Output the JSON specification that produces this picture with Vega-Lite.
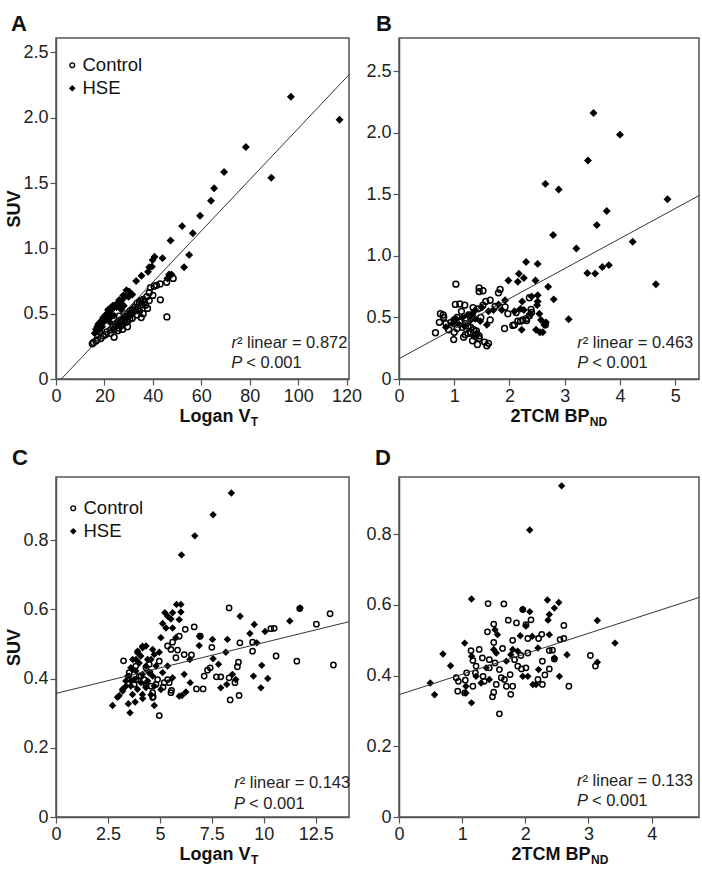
{
"$schema": "https://vega.github.io/schema/vega-lite/v6.json",
"background": "white",
"padding": {"left": 5, "top": 12, "right": 0, "bottom": 0},
"datasets": {
"ab": [
{"g":"HSE","suv":2.16,"vt":97.0,"bp":3.52},{"g":"HSE","suv":1.985,"vt":117.1,"bp":4.0},{"g":"HSE","suv":1.775,"vt":78.4,"bp":3.42},{"g":"HSE","suv":1.585,"vt":69.4,"bp":2.65},{"g":"HSE","suv":1.54,"vt":88.9,"bp":2.89},{"g":"HSE","suv":1.46,"vt":65.3,"bp":4.86},{"g":"HSE","suv":1.365,"vt":64.0,"bp":3.76},{"g":"HSE","suv":1.25,"vt":59.5,"bp":3.58},{"g":"HSE","suv":1.17,"vt":52.1,"bp":2.79},{"g":"HSE","suv":1.115,"vt":56.5,"bp":4.23},{"g":"HSE","suv":1.06,"vt":47.3,"bp":3.21},{"g":"HSE","suv":0.95,"vt":55.0,"bp":2.30},{"g":"HSE","suv":0.935,"vt":40.7,"bp":2.51},{"g":"HSE","suv":0.925,"vt":44.0,"bp":3.80},{"g":"HSE","suv":0.91,"vt":39.9,"bp":3.68},{"g":"HSE","suv":0.86,"vt":39.6,"bp":3.41},{"g":"HSE","suv":0.856,"vt":52.9,"bp":3.55},{"g":"HSE","suv":0.855,"vt":38.5,"bp":2.17},{"g":"HSE","suv":0.82,"vt":38.0,"bp":2.26},{"g":"HSE","suv":0.80,"vt":46.7,"bp":1.98},{"g":"HSE","suv":0.80,"vt":47.7,"bp":2.47},{"g":"HSE","suv":0.79,"vt":35.3,"bp":2.15},{"g":"HSE","suv":0.77,"vt":46.0,"bp":4.65},{"g":"HSE","suv":0.75,"vt":33.1,"bp":2.70},
{"g":"HSE","suv":0.68,"vt":29.1,"bp":2.51},{"g":"HSE","suv":0.67,"vt":30.2,"bp":2.40},{"g":"HSE","suv":0.647,"vt":31.5,"bp":2.80},{"g":"HSE","suv":0.64,"vt":27.8,"bp":1.92},{"g":"HSE","suv":0.63,"vt":28.5,"bp":2.51},{"g":"HSE","suv":0.63,"vt":30.0,"bp":2.23},{"g":"HSE","suv":0.605,"vt":26.1,"bp":1.80},{"g":"HSE","suv":0.60,"vt":27.0,"bp":2.50},{"g":"HSE","suv":0.58,"vt":25.5,"bp":1.50},{"g":"HSE","suv":0.57,"vt":24.8,"bp":2.20},{"g":"HSE","suv":0.56,"vt":24.0,"bp":1.86},{"g":"HSE","suv":0.56,"vt":26.5,"bp":1.71},{"g":"HSE","suv":0.56,"vt":23.5,"bp":2.26},{"g":"HSE","suv":0.56,"vt":28.0,"bp":1.38},{"g":"HSE","suv":0.55,"vt":22.8,"bp":1.62},{"g":"HSE","suv":0.55,"vt":25.0,"bp":2.09},{"g":"HSE","suv":0.53,"vt":23.0,"bp":1.33},{"g":"HSE","suv":0.53,"vt":21.5,"bp":2.38},{"g":"HSE","suv":0.53,"vt":27.0,"bp":2.54},{"g":"HSE","suv":0.52,"vt":22.0,"bp":1.24},{"g":"HSE","suv":0.50,"vt":21.0,"bp":1.15},{"g":"HSE","suv":0.49,"vt":20.5,"bp":1.03},{"g":"HSE","suv":0.49,"vt":22.5,"bp":1.38},{"g":"HSE","suv":0.485,"vt":24.0,"bp":3.07},{"g":"HSE","suv":0.48,"vt":21.0,"bp":1.30},{"g":"HSE","suv":0.48,"vt":23.0,"bp":2.57},{"g":"HSE","suv":0.47,"vt":19.5,"bp":1.47},{"g":"HSE","suv":0.46,"vt":20.5,"bp":2.66},{"g":"HSE","suv":0.45,"vt":19.0,"bp":0.97},{"g":"HSE","suv":0.44,"vt":18.5,"bp":1.09},{"g":"HSE","suv":0.44,"vt":20.0,"bp":2.63},{"g":"HSE","suv":0.44,"vt":22.0,"bp":1.59},{"g":"HSE","suv":0.43,"vt":18.0,"bp":1.18},{"g":"HSE","suv":0.42,"vt":17.5,"bp":0.85},{"g":"HSE","suv":0.40,"vt":17.0,"bp":2.48},{"g":"HSE","suv":0.40,"vt":19.0,"bp":2.22},{"g":"HSE","suv":0.38,"vt":16.5,"bp":2.60},{"g":"HSE","suv":0.38,"vt":18.0,"bp":2.55},{"g":"HSE","suv":0.37,"vt":17.5,"bp":1.42},{"g":"HSE","suv":0.35,"vt":16.0,"bp":1.35},
{"g":"Control","suv":0.77,"vt":48.4,"bp":1.03},{"g":"Control","suv":0.74,"vt":45.7,"bp":1.45},{"g":"Control","suv":0.728,"vt":43.0,"bp":1.83},{"g":"Control","suv":0.717,"vt":41.5,"bp":1.52},{"g":"Control","suv":0.71,"vt":40.5,"bp":1.45},{"g":"Control","suv":0.70,"vt":39.0,"bp":1.80},{"g":"Control","suv":0.66,"vt":38.5,"bp":2.36},{"g":"Control","suv":0.64,"vt":40.0,"bp":1.65},{"g":"Control","suv":0.63,"vt":37.5,"bp":1.57},{"g":"Control","suv":0.61,"vt":36.0,"bp":1.10},{"g":"Control","suv":0.606,"vt":43.1,"bp":1.02},{"g":"Control","suv":0.60,"vt":38.5,"bp":1.19},{"g":"Control","suv":0.60,"vt":35.0,"bp":1.52},{"g":"Control","suv":0.59,"vt":36.5,"bp":1.74},{"g":"Control","suv":0.585,"vt":34.5,"bp":1.92},{"g":"Control","suv":0.58,"vt":33.5,"bp":1.34},{"g":"Control","suv":0.57,"vt":35.5,"bp":1.43},{"g":"Control","suv":0.565,"vt":37.0,"bp":2.39},{"g":"Control","suv":0.55,"vt":32.5,"bp":1.13},{"g":"Control","suv":0.54,"vt":34.0,"bp":2.12},{"g":"Control","suv":0.54,"vt":37.8,"bp":2.40},{"g":"Control","suv":0.53,"vt":31.5,"bp":0.75},{"g":"Control","suv":0.53,"vt":33.0,"bp":1.97},{"g":"Control","suv":0.52,"vt":30.5,"bp":1.27},{"g":"Control","suv":0.514,"vt":32.0,"bp":2.36},{"g":"Control","suv":0.50,"vt":31.0,"bp":0.81},{"g":"Control","suv":0.50,"vt":29.5,"bp":1.05},{"g":"Control","suv":0.49,"vt":33.5,"bp":2.30},{"g":"Control","suv":0.48,"vt":30.0,"bp":1.65},{"g":"Control","suv":0.48,"vt":28.5,"bp":2.24},{"g":"Control","suv":0.475,"vt":45.8,"bp":2.31},{"g":"Control","suv":0.47,"vt":29.0,"bp":2.15},{"g":"Control","suv":0.47,"vt":35.2,"bp":2.20},{"g":"Control","suv":0.465,"vt":31.5,"bp":1.10},{"g":"Control","suv":0.46,"vt":27.5,"bp":0.73},{"g":"Control","suv":0.46,"vt":30.5,"bp":0.94},{"g":"Control","suv":0.45,"vt":28.0,"bp":0.85},{"g":"Control","suv":0.45,"vt":26.5,"bp":1.20},{"g":"Control","suv":0.44,"vt":29.5,"bp":2.09},{"g":"Control","suv":0.44,"vt":27.0,"bp":2.65},{"g":"Control","suv":0.435,"vt":25.5,"bp":2.06},{"g":"Control","suv":0.43,"vt":28.5,"bp":1.25},{"g":"Control","suv":0.42,"vt":26.0,"bp":1.30},{"g":"Control","suv":0.42,"vt":24.5,"bp":1.15},{"g":"Control","suv":0.41,"vt":27.0,"bp":1.91},{"g":"Control","suv":0.41,"vt":25.0,"bp":1.05},{"g":"Control","suv":0.40,"vt":29.5,"bp":0.90},{"g":"Control","suv":0.40,"vt":23.5,"bp":1.35},{"g":"Control","suv":0.39,"vt":26.0,"bp":1.40},{"g":"Control","suv":0.38,"vt":24.0,"bp":1.00},{"g":"Control","suv":0.38,"vt":27.5,"bp":1.30},{"g":"Control","suv":0.376,"vt":22.5,"bp":0.66},{"g":"Control","suv":0.37,"vt":25.5,"bp":1.25},{"g":"Control","suv":0.36,"vt":21.0,"bp":1.40},{"g":"Control","suv":0.35,"vt":22.5,"bp":1.45},{"g":"Control","suv":0.34,"vt":20.5,"bp":1.17},{"g":"Control","suv":0.33,"vt":19.5,"bp":1.45},{"g":"Control","suv":0.32,"vt":24.0,"bp":0.99},{"g":"Control","suv":0.31,"vt":18.5,"bp":1.33},{"g":"Control","suv":0.30,"vt":17.0,"bp":1.55},{"g":"Control","suv":0.29,"vt":16.5,"bp":1.62},{"g":"Control","suv":0.28,"vt":15.5,"bp":1.42},{"g":"Control","suv":0.27,"vt":15.0,"bp":1.59},{"g":"Control","suv":0.48,"vt":26.0,"bp":1.00},{"g":"Control","suv":0.52,"vt":34.5,"bp":0.80},{"g":"Control","suv":0.50,"vt":36.0,"bp":1.48},{"g":"Control","suv":0.36,"vt":18.0,"bp":1.20}
],
"c": [
{"g":"Control","vt":3.25,"suv":0.451},{"g":"Control","vt":4.97,"suv":0.293},{"g":"Control","vt":4.68,"suv":0.347},{"g":"Control","vt":8.33,"suv":0.604},{"g":"Control","vt":6.22,"suv":0.542},{"g":"Control","vt":6.65,"suv":0.549},{"g":"Control","vt":6.17,"suv":0.469},{"g":"Control","vt":6.52,"suv":0.468},{"g":"Control","vt":7.5,"suv":0.49},{"g":"Control","vt":6.94,"suv":0.522},{"g":"Control","vt":12.53,"suv":0.557},{"g":"Control","vt":13.19,"suv":0.587},{"g":"Control","vt":11.73,"suv":0.602},{"g":"Control","vt":13.35,"suv":0.439},{"g":"Control","vt":11.59,"suv":0.45},{"g":"Control","vt":10.59,"suv":0.465},{"g":"Control","vt":10.5,"suv":0.545},{"g":"Control","vt":10.34,"suv":0.544},{"g":"Control","vt":9.46,"suv":0.505},{"g":"Control","vt":8.78,"suv":0.447},{"g":"Control","vt":8.73,"suv":0.434},{"g":"Control","vt":8.85,"suv":0.503},{"g":"Control","vt":8.38,"suv":0.338},{"g":"Control","vt":8.81,"suv":0.351},{"g":"Control","vt":8.61,"suv":0.388},{"g":"Control","vt":8.33,"suv":0.402},{"g":"Control","vt":7.72,"suv":0.405},{"g":"Control","vt":7.93,"suv":0.405},{"g":"Control","vt":7.13,"suv":0.407},{"g":"Control","vt":7.08,"suv":0.37},{"g":"Control","vt":6.76,"suv":0.37},{"g":"Control","vt":7.42,"suv":0.431},{"g":"Control","vt":7.29,"suv":0.424},{"g":"Control","vt":5.56,"suv":0.366},{"g":"Control","vt":5.45,"suv":0.388},{"g":"Control","vt":5.21,"suv":0.388},{"g":"Control","vt":4.81,"suv":0.383},{"g":"Control","vt":4.97,"suv":0.45},{"g":"Control","vt":4.52,"suv":0.417},{"g":"Control","vt":4.33,"suv":0.378},{"g":"Control","vt":3.85,"suv":0.397},{"g":"Control","vt":5.61,"suv":0.505},{"g":"Control","vt":5.53,"suv":0.484},{"g":"Control","vt":5.37,"suv":0.494},{"g":"Control","vt":5.77,"suv":0.46},{"g":"Control","vt":5.93,"suv":0.522},{"g":"Control","vt":5.85,"suv":0.482},{"g":"Control","vt":4.33,"suv":0.431},{"g":"Control","vt":9.46,"suv":0.479},{"g":"Control","vt":4.09,"suv":0.407},{"g":"Control","vt":3.84,"suv":0.436},{"g":"Control","vt":4.49,"suv":0.441},{"g":"Control","vt":4.24,"suv":0.397},{"g":"Control","vt":4.89,"suv":0.397},{"g":"Control","vt":3.52,"suv":0.417},{"g":"Control","vt":4.65,"suv":0.359},{"g":"Control","vt":4.0,"suv":0.407},{"g":"Control","vt":5.37,"suv":0.397},{"g":"Control","vt":5.15,"suv":0.375},{"g":"Control","vt":4.57,"suv":0.378},{"g":"Control","vt":3.76,"suv":0.383},{"g":"Control","vt":4.65,"suv":0.345},{"g":"Control","vt":5.53,"suv":0.359},
{"g":"HSE","vt":8.44,"suv":0.936},{"g":"HSE","vt":7.56,"suv":0.873},{"g":"HSE","vt":6.68,"suv":0.812},{"g":"HSE","vt":6.04,"suv":0.757},{"g":"HSE","vt":2.72,"suv":0.322},{"g":"HSE","vt":2.96,"suv":0.346},{"g":"HSE","vt":3.56,"suv":0.301},{"g":"HSE","vt":3.48,"suv":0.327},{"g":"HSE","vt":3.81,"suv":0.332},{"g":"HSE","vt":4.17,"suv":0.342},{"g":"HSE","vt":4.73,"suv":0.322},{"g":"HSE","vt":4.57,"suv":0.353},{"g":"HSE","vt":3.21,"suv":0.364},{"g":"HSE","vt":3.37,"suv":0.378},{"g":"HSE","vt":3.61,"suv":0.393},{"g":"HSE","vt":3.45,"suv":0.407},{"g":"HSE","vt":3.69,"suv":0.426},{"g":"HSE","vt":3.85,"suv":0.455},{"g":"HSE","vt":3.93,"suv":0.474},{"g":"HSE","vt":4.17,"suv":0.489},{"g":"HSE","vt":4.33,"suv":0.494},{"g":"HSE","vt":4.65,"suv":0.484},{"g":"HSE","vt":4.57,"suv":0.455},{"g":"HSE","vt":4.81,"suv":0.436},{"g":"HSE","vt":4.97,"suv":0.476},{"g":"HSE","vt":5.05,"suv":0.518},{"g":"HSE","vt":5.13,"suv":0.559},{"g":"HSE","vt":5.24,"suv":0.59},{"g":"HSE","vt":5.37,"suv":0.58},{"g":"HSE","vt":5.53,"suv":0.572},{"g":"HSE","vt":5.61,"suv":0.59},{"g":"HSE","vt":5.8,"suv":0.614},{"g":"HSE","vt":6.01,"suv":0.614},{"g":"HSE","vt":5.93,"suv":0.57},{"g":"HSE","vt":6.01,"suv":0.592},{"g":"HSE","vt":5.29,"suv":0.546},{"g":"HSE","vt":5.61,"suv":0.546},{"g":"HSE","vt":5.77,"suv":0.518},{"g":"HSE","vt":5.13,"suv":0.417},{"g":"HSE","vt":5.37,"suv":0.436},{"g":"HSE","vt":5.05,"suv":0.368},{"g":"HSE","vt":5.61,"suv":0.402},{"g":"HSE","vt":5.93,"suv":0.349},{"g":"HSE","vt":6.06,"suv":0.351},{"g":"HSE","vt":6.25,"suv":0.361},{"g":"HSE","vt":6.46,"suv":0.388},{"g":"HSE","vt":6.44,"suv":0.455},{"g":"HSE","vt":6.89,"suv":0.495},{"g":"HSE","vt":6.9,"suv":0.522},{"g":"HSE","vt":7.53,"suv":0.513},{"g":"HSE","vt":7.56,"suv":0.457},{"g":"HSE","vt":7.82,"suv":0.441},{"g":"HSE","vt":7.93,"suv":0.373},{"g":"HSE","vt":8.22,"suv":0.383},{"g":"HSE","vt":8.25,"suv":0.513},{"g":"HSE","vt":8.17,"suv":0.476},{"g":"HSE","vt":8.49,"suv":0.412},{"g":"HSE","vt":8.65,"suv":0.397},{"g":"HSE","vt":8.86,"suv":0.58},{"g":"HSE","vt":9.33,"suv":0.53},{"g":"HSE","vt":9.54,"suv":0.556},{"g":"HSE","vt":9.5,"suv":0.407},{"g":"HSE","vt":9.86,"suv":0.373},{"g":"HSE","vt":9.9,"suv":0.438},{"g":"HSE","vt":10.06,"suv":0.536},{"g":"HSE","vt":10.19,"suv":0.4},{"g":"HSE","vt":11.25,"suv":0.566},{"g":"HSE","vt":11.75,"suv":0.604},{"g":"HSE","vt":9.66,"suv":0.503},{"g":"HSE","vt":6.17,"suv":0.412},{"g":"HSE","vt":4.16,"suv":0.493},{"g":"HSE","vt":3.93,"suv":0.479},{"g":"HSE","vt":3.69,"suv":0.455},{"g":"HSE","vt":4.0,"suv":0.445},{"g":"HSE","vt":4.33,"suv":0.436},{"g":"HSE","vt":3.6,"suv":0.431},{"g":"HSE","vt":3.84,"suv":0.422},{"g":"HSE","vt":4.16,"suv":0.412},{"g":"HSE","vt":4.48,"suv":0.417},{"g":"HSE","vt":3.52,"suv":0.407},{"g":"HSE","vt":3.76,"suv":0.397},{"g":"HSE","vt":4.09,"suv":0.388},{"g":"HSE","vt":4.41,"suv":0.393},{"g":"HSE","vt":4.65,"suv":0.407},{"g":"HSE","vt":3.36,"suv":0.393},{"g":"HSE","vt":3.6,"suv":0.378},{"g":"HSE","vt":3.92,"suv":0.369},{"g":"HSE","vt":4.33,"suv":0.374},{"g":"HSE","vt":4.73,"suv":0.378},{"g":"HSE","vt":3.2,"suv":0.369},{"g":"HSE","vt":3.68,"suv":0.354},{"g":"HSE","vt":4.16,"suv":0.354},{"g":"HSE","vt":3.04,"suv":0.35},{"g":"HSE","vt":4.41,"suv":0.455},{"g":"HSE","vt":4.73,"suv":0.469},{"g":"HSE","vt":4.08,"suv":0.465}
],
"d": [
{"g":"HSE","bp":2.575,"suv":0.937},{"g":"HSE","bp":2.07,"suv":0.812},{"g":"HSE","bp":1.148,"suv":0.617},{"g":"HSE","bp":2.35,"suv":0.614},{"g":"HSE","bp":2.53,"suv":0.607},{"g":"HSE","bp":2.46,"suv":0.591},{"g":"HSE","bp":2.38,"suv":0.573},{"g":"HSE","bp":2.36,"suv":0.557},{"g":"HSE","bp":1.96,"suv":0.588},{"g":"HSE","bp":2.07,"suv":0.581},{"g":"HSE","bp":3.14,"suv":0.556},{"g":"HSE","bp":3.42,"suv":0.492},{"g":"HSE","bp":3.14,"suv":0.438},{"g":"HSE","bp":2.66,"suv":0.459},{"g":"HSE","bp":2.54,"suv":0.398},{"g":"HSE","bp":0.695,"suv":0.461},{"g":"HSE","bp":0.816,"suv":0.428},{"g":"HSE","bp":0.495,"suv":0.379},{"g":"HSE","bp":0.563,"suv":0.346},{"g":"HSE","bp":1.148,"suv":0.323},{"g":"HSE","bp":1.04,"suv":0.492},{"g":"HSE","bp":1.15,"suv":0.455},{"g":"HSE","bp":1.52,"suv":0.53},{"g":"HSE","bp":1.56,"suv":0.516},{"g":"HSE","bp":1.50,"suv":0.474},{"g":"HSE","bp":1.54,"suv":0.464},{"g":"HSE","bp":1.80,"suv":0.474},{"g":"HSE","bp":1.88,"suv":0.469},{"g":"HSE","bp":1.77,"suv":0.459},{"g":"HSE","bp":1.70,"suv":0.441},{"g":"HSE","bp":1.92,"suv":0.513},{"g":"HSE","bp":2.01,"suv":0.54},{"g":"HSE","bp":2.11,"suv":0.511},{"g":"HSE","bp":2.20,"suv":0.478},{"g":"HSE","bp":2.21,"suv":0.417},{"g":"HSE","bp":2.12,"suv":0.375},{"g":"HSE","bp":2.17,"suv":0.375},{"g":"HSE","bp":1.96,"suv":0.398},{"g":"HSE","bp":2.04,"suv":0.398},{"g":"HSE","bp":2.38,"suv":0.516},{"g":"HSE","bp":2.46,"suv":0.45},{"g":"HSE","bp":1.38,"suv":0.422},{"g":"HSE","bp":1.22,"suv":0.398},{"g":"HSE","bp":1.06,"suv":0.37},{"g":"HSE","bp":1.30,"suv":0.379},{"g":"HSE","bp":1.43,"suv":0.389},{"g":"HSE","bp":1.06,"suv":0.351},
{"g":"Control","bp":1.41,"suv":0.604},{"g":"Control","bp":1.66,"suv":0.603},{"g":"Control","bp":1.73,"suv":0.557},{"g":"Control","bp":1.86,"suv":0.549},{"g":"Control","bp":1.96,"suv":0.587},{"g":"Control","bp":2.09,"suv":0.558},{"g":"Control","bp":2.01,"suv":0.544},{"g":"Control","bp":2.26,"suv":0.517},{"g":"Control","bp":2.21,"suv":0.505},{"g":"Control","bp":2.61,"suv":0.542},{"g":"Control","bp":2.61,"suv":0.505},{"g":"Control","bp":2.55,"suv":0.502},{"g":"Control","bp":2.43,"suv":0.472},{"g":"Control","bp":2.38,"suv":0.471},{"g":"Control","bp":2.46,"suv":0.447},{"g":"Control","bp":2.38,"suv":0.419},{"g":"Control","bp":2.27,"suv":0.441},{"g":"Control","bp":2.31,"suv":0.402},{"g":"Control","bp":2.27,"suv":0.375},{"g":"Control","bp":2.2,"suv":0.389},{"g":"Control","bp":2.69,"suv":0.37},{"g":"Control","bp":3.03,"suv":0.457},{"g":"Control","bp":3.11,"suv":0.427},{"g":"Control","bp":1.40,"suv":0.524},{"g":"Control","bp":1.50,"suv":0.546},{"g":"Control","bp":1.50,"suv":0.494},{"g":"Control","bp":1.64,"suv":0.477},{"g":"Control","bp":1.80,"suv":0.5},{"g":"Control","bp":2.04,"suv":0.505},{"g":"Control","bp":2.04,"suv":0.464},{"g":"Control","bp":1.83,"suv":0.445},{"g":"Control","bp":1.94,"suv":0.419},{"g":"Control","bp":2.01,"suv":0.422},{"g":"Control","bp":1.76,"suv":0.403},{"g":"Control","bp":1.67,"suv":0.389},{"g":"Control","bp":1.70,"suv":0.37},{"g":"Control","bp":1.77,"suv":0.347},{"g":"Control","bp":1.80,"suv":0.37},{"g":"Control","bp":1.59,"suv":0.292},{"g":"Control","bp":1.48,"suv":0.34},{"g":"Control","bp":1.50,"suv":0.353},{"g":"Control","bp":1.54,"suv":0.375},{"g":"Control","bp":1.27,"suv":0.474},{"g":"Control","bp":1.32,"suv":0.45},{"g":"Control","bp":1.14,"suv":0.471},{"g":"Control","bp":1.17,"suv":0.443},{"g":"Control","bp":1.22,"suv":0.427},{"g":"Control","bp":1.07,"suv":0.408},{"g":"Control","bp":0.906,"suv":0.394},{"g":"Control","bp":0.94,"suv":0.384},{"g":"Control","bp":1.05,"suv":0.387},{"g":"Control","bp":0.93,"suv":0.356},{"g":"Control","bp":1.04,"suv":0.351},{"g":"Control","bp":1.17,"suv":0.37},{"g":"Control","bp":1.21,"suv":0.408},{"g":"Control","bp":1.33,"suv":0.398},{"g":"Control","bp":1.35,"suv":0.384},{"g":"Control","bp":1.43,"suv":0.445},{"g":"Control","bp":1.43,"suv":0.422},{"g":"Control","bp":1.52,"suv":0.436},{"g":"Control","bp":1.59,"suv":0.417},{"g":"Control","bp":1.62,"suv":0.394},{"g":"Control","bp":1.88,"suv":0.427},{"g":"Control","bp":1.93,"suv":0.457}
],
"lineA": [{"x":0,"y":-0.043},{"x":121,"y":2.329}],
"lineB": [{"x":0,"y":0.165},{"x":5.43,"y":1.49}],
"lineC": [{"x":0,"y":0.357},{"x":14.1,"y":0.564}],
"lineD": [{"x":0,"y":0.346},{"x":4.75,"y":0.621}],
"one": [{}]
},
"columns": 2,
"bounds": "flush",
"spacing": {"row": 98, "column": 50},
"resolve": {"scale": {"x": "independent", "y": "independent", "shape": "independent", "fill": "independent", "stroke": "independent"}, "legend": {"shape": "independent", "fill": "independent", "stroke": "independent"}},
"concat": [
{
"width": 293, "height": 341,
"title": {"text": "A", "anchor": "start", "dx": 5, "offset": -20, "baseline": "bottom", "fontSize": 22, "fontWeight": "bold"},
"layer": [
{"data": {"name": "ab"}, "mark": {"type": "point", "opacity": 1, "strokeWidth": 1.5, "size": 34},
"encoding": {
"x": {"field": "vt", "type": "quantitative", "scale": {"domain": [0, 121], "nice": false, "zero": false}, "axis": {"title": "Logan V", "values": [0, 20, 40, 60, 80, 100, 120], "labelExpr": "format(datum.value, '~g')", "titleX": 123, "titleY": 42, "titleAlign": "left", "titleBaseline": "alphabetic"}},
"y": {"field": "suv", "type": "quantitative", "scale": {"domain": [0, 2.61], "nice": false, "zero": false}, "axis": {"title": "SUV", "values": [0, 0.5, 1, 1.5, 2, 2.5], "labelExpr": "datum.value == 0 ? '0' : format(datum.value, '.1f')"}},
"shape": {"field": "g", "type": "nominal", "scale": {"domain": ["Control", "HSE"], "range": ["circle", "diamond"]}, "legend": {"orient": "none", "legendX": 7, "legendY": 18, "title": null, "symbolSize": 22}},
"fill": {"field": "g", "type": "nominal", "scale": {"domain": ["Control", "HSE"], "range": ["transparent", "black"]}, "legend": {"orient": "none", "legendX": 7, "legendY": 18, "title": null, "symbolSize": 22}},
"stroke": {"field": "g", "type": "nominal", "scale": {"domain": ["Control", "HSE"], "range": ["black", "black"]}, "legend": {"orient": "none", "legendX": 7, "legendY": 18, "title": null, "symbolSize": 22}}
}},
{"data": {"name": "lineA"}, "mark": {"type": "line", "color": "#333", "strokeWidth": 1, "clip": true},
"encoding": {"x": {"field": "x", "type": "quantitative"}, "y": {"field": "y", "type": "quantitative"}}},
{"data": {"name": "one"}, "mark": {"type": "text", "align": "left", "baseline": "alphabetic", "fontWeight": "bold", "fontSize": 12, "color": "#111"},
"encoding": {"x": {"datum": 80.4, "type": "quantitative"}, "y": {"datum": -0.36, "type": "quantitative"}, "text": {"value": "T"}}},
{"data": {"name": "one"}, "mark": {"type": "text", "align": "right", "baseline": "alphabetic", "fontStyle": "italic", "fontSize": 16.5, "color": "#222"},
"encoding": {"x": {"datum": 74.7, "type": "quantitative"}, "y": {"datum": 0.235, "type": "quantitative"}, "text": {"value": "r"}}},
{"data": {"name": "one"}, "mark": {"type": "text", "align": "left", "baseline": "alphabetic", "fontSize": 16.5, "color": "#222"},
"encoding": {"x": {"datum": 74.7, "type": "quantitative"}, "y": {"datum": 0.235, "type": "quantitative"}, "text": {"value": "² linear = 0.872"}}},
{"data": {"name": "one"}, "mark": {"type": "text", "align": "right", "baseline": "alphabetic", "fontStyle": "italic", "fontSize": 16.5, "color": "#222"},
"encoding": {"x": {"datum": 76.9, "type": "quantitative"}, "y": {"datum": 0.082, "type": "quantitative"}, "text": {"value": "P"}}},
{"data": {"name": "one"}, "mark": {"type": "text", "align": "left", "baseline": "alphabetic", "fontSize": 16.5, "color": "#222", "dx": 4},
"encoding": {"x": {"datum": 76.9, "type": "quantitative"}, "y": {"datum": 0.082, "type": "quantitative"}, "text": {"value": "< 0.001"}}}
]
},
{
"width": 300, "height": 341,
"title": {"text": "B", "anchor": "start", "dx": 10, "offset": -20, "baseline": "bottom", "fontSize": 22, "fontWeight": "bold"},
"layer": [
{"data": {"name": "ab"}, "mark": {"type": "point", "opacity": 1, "strokeWidth": 1.5, "size": 34},
"encoding": {
"x": {"field": "bp", "type": "quantitative", "scale": {"domain": [0, 5.43], "nice": false, "zero": false}, "axis": {"title": "2TCM BP", "values": [0, 1, 2, 3, 4, 5], "labelExpr": "format(datum.value, '~g')", "titleX": 111, "titleY": 42, "titleAlign": "left", "titleBaseline": "alphabetic"}},
"y": {"field": "suv", "type": "quantitative", "scale": {"domain": [0, 2.77], "nice": false, "zero": false}, "axis": {"title": null, "values": [0, 0.5, 1, 1.5, 2, 2.5], "labelExpr": "datum.value == 0 ? '0' : format(datum.value, '.1f')"}},
"shape": {"field": "g", "type": "nominal", "scale": {"domain": ["Control", "HSE"], "range": ["circle", "diamond"]}, "legend": null},
"fill": {"field": "g", "type": "nominal", "scale": {"domain": ["Control", "HSE"], "range": ["transparent", "black"]}, "legend": null},
"stroke": {"field": "g", "type": "nominal", "scale": {"domain": ["Control", "HSE"], "range": ["black", "black"]}, "legend": null}
}},
{"data": {"name": "lineB"}, "mark": {"type": "line", "color": "#333", "strokeWidth": 1, "clip": true},
"encoding": {"x": {"field": "x", "type": "quantitative"}, "y": {"field": "y", "type": "quantitative"}}},
{"data": {"name": "one"}, "mark": {"type": "text", "align": "left", "baseline": "alphabetic", "fontWeight": "bold", "fontSize": 12, "color": "#111"},
"encoding": {"x": {"datum": 3.454, "type": "quantitative"}, "y": {"datum": -0.382, "type": "quantitative"}, "text": {"value": "ND"}}},
{"data": {"name": "one"}, "mark": {"type": "text", "align": "right", "baseline": "alphabetic", "fontStyle": "italic", "fontSize": 16.5, "color": "#222"},
"encoding": {"x": {"datum": 3.325, "type": "quantitative"}, "y": {"datum": 0.252, "type": "quantitative"}, "text": {"value": "r"}}},
{"data": {"name": "one"}, "mark": {"type": "text", "align": "left", "baseline": "alphabetic", "fontSize": 16.5, "color": "#222"},
"encoding": {"x": {"datum": 3.325, "type": "quantitative"}, "y": {"datum": 0.252, "type": "quantitative"}, "text": {"value": "² linear = 0.463"}}},
{"data": {"name": "one"}, "mark": {"type": "text", "align": "right", "baseline": "alphabetic", "fontStyle": "italic", "fontSize": 16.5, "color": "#222"},
"encoding": {"x": {"datum": 3.425, "type": "quantitative"}, "y": {"datum": 0.089, "type": "quantitative"}, "text": {"value": "P"}}},
{"data": {"name": "one"}, "mark": {"type": "text", "align": "left", "baseline": "alphabetic", "fontSize": 16.5, "color": "#222", "dx": 4},
"encoding": {"x": {"datum": 3.425, "type": "quantitative"}, "y": {"datum": 0.089, "type": "quantitative"}, "text": {"value": "< 0.001"}}}
]
},
{
"width": 293, "height": 340,
"title": {"text": "C", "anchor": "start", "dx": 6, "offset": -15, "baseline": "bottom", "fontSize": 22, "fontWeight": "bold"},
"layer": [
{"data": {"name": "c"}, "mark": {"type": "point", "opacity": 1, "strokeWidth": 1.5, "size": 28},
"encoding": {
"x": {"field": "vt", "type": "quantitative", "scale": {"domain": [0, 14.1], "nice": false, "zero": false}, "axis": {"title": "Logan V", "values": [0, 2.5, 5, 7.5, 10, 12.5], "labelExpr": "format(datum.value, '~g')", "titleX": 123, "titleY": 42, "titleAlign": "left", "titleBaseline": "alphabetic"}},
"y": {"field": "suv", "type": "quantitative", "scale": {"domain": [0, 0.982], "nice": false, "zero": false}, "axis": {"title": "SUV", "values": [0, 0.2, 0.4, 0.6, 0.8], "labelExpr": "datum.value == 0 ? '0' : format(datum.value, '.1f')"}},
"shape": {"field": "g", "type": "nominal", "scale": {"domain": ["Control", "HSE"], "range": ["circle", "diamond"]}, "legend": {"orient": "none", "legendX": 8, "legendY": 22, "title": null, "symbolSize": 22}},
"fill": {"field": "g", "type": "nominal", "scale": {"domain": ["Control", "HSE"], "range": ["transparent", "black"]}, "legend": {"orient": "none", "legendX": 8, "legendY": 22, "title": null, "symbolSize": 22}},
"stroke": {"field": "g", "type": "nominal", "scale": {"domain": ["Control", "HSE"], "range": ["black", "black"]}, "legend": {"orient": "none", "legendX": 8, "legendY": 22, "title": null, "symbolSize": 22}}
}},
{"data": {"name": "lineC"}, "mark": {"type": "line", "color": "#333", "strokeWidth": 1, "clip": true},
"encoding": {"x": {"field": "x", "type": "quantitative"}, "y": {"field": "y", "type": "quantitative"}}},
{"data": {"name": "one"}, "mark": {"type": "text", "align": "left", "baseline": "alphabetic", "fontWeight": "bold", "fontSize": 12, "color": "#111"},
"encoding": {"x": {"datum": 9.38, "type": "quantitative"}, "y": {"datum": -0.1356, "type": "quantitative"}, "text": {"value": "T"}}},
{"data": {"name": "one"}, "mark": {"type": "text", "align": "right", "baseline": "alphabetic", "fontStyle": "italic", "fontSize": 16.5, "color": "#222"},
"encoding": {"x": {"datum": 8.84, "type": "quantitative"}, "y": {"datum": 0.085, "type": "quantitative"}, "text": {"value": "r"}}},
{"data": {"name": "one"}, "mark": {"type": "text", "align": "left", "baseline": "alphabetic", "fontSize": 16.5, "color": "#222"},
"encoding": {"x": {"datum": 8.84, "type": "quantitative"}, "y": {"datum": 0.085, "type": "quantitative"}, "text": {"value": "² linear = 0.143"}}},
{"data": {"name": "one"}, "mark": {"type": "text", "align": "right", "baseline": "alphabetic", "fontStyle": "italic", "fontSize": 16.5, "color": "#222"},
"encoding": {"x": {"datum": 9.1, "type": "quantitative"}, "y": {"datum": 0.022, "type": "quantitative"}, "text": {"value": "P"}}},
{"data": {"name": "one"}, "mark": {"type": "text", "align": "left", "baseline": "alphabetic", "fontSize": 16.5, "color": "#222", "dx": 4},
"encoding": {"x": {"datum": 9.1, "type": "quantitative"}, "y": {"datum": 0.022, "type": "quantitative"}, "text": {"value": "< 0.001"}}}
]
},
{
"width": 300, "height": 340,
"title": {"text": "D", "anchor": "start", "dx": 9, "offset": -15, "baseline": "bottom", "fontSize": 22, "fontWeight": "bold"},
"layer": [
{"data": {"name": "d"}, "mark": {"type": "point", "opacity": 1, "strokeWidth": 1.5, "size": 28},
"encoding": {
"x": {"field": "bp", "type": "quantitative", "scale": {"domain": [0, 4.75], "nice": false, "zero": false}, "axis": {"title": "2TCM BP", "values": [0, 1, 2, 3, 4], "labelExpr": "format(datum.value, '~g')", "titleX": 112, "titleY": 42, "titleAlign": "left", "titleBaseline": "alphabetic"}},
"y": {"field": "suv", "type": "quantitative", "scale": {"domain": [0, 0.962], "nice": false, "zero": false}, "axis": {"title": null, "values": [0, 0.2, 0.4, 0.6, 0.8], "labelExpr": "datum.value == 0 ? '0' : format(datum.value, '.1f')"}},
"shape": {"field": "g", "type": "nominal", "scale": {"domain": ["Control", "HSE"], "range": ["circle", "diamond"]}, "legend": null},
"fill": {"field": "g", "type": "nominal", "scale": {"domain": ["Control", "HSE"], "range": ["transparent", "black"]}, "legend": null},
"stroke": {"field": "g", "type": "nominal", "scale": {"domain": ["Control", "HSE"], "range": ["black", "black"]}, "legend": null}
}},
{"data": {"name": "lineD"}, "mark": {"type": "line", "color": "#333", "strokeWidth": 1, "clip": true},
"encoding": {"x": {"field": "x", "type": "quantitative"}, "y": {"field": "y", "type": "quantitative"}}},
{"data": {"name": "one"}, "mark": {"type": "text", "align": "left", "baseline": "alphabetic", "fontWeight": "bold", "fontSize": 12, "color": "#111"},
"encoding": {"x": {"datum": 3.04, "type": "quantitative"}, "y": {"datum": -0.1326, "type": "quantitative"}, "text": {"value": "ND"}}},
{"data": {"name": "one"}, "mark": {"type": "text", "align": "right", "baseline": "alphabetic", "fontStyle": "italic", "fontSize": 16.5, "color": "#222"},
"encoding": {"x": {"datum": 2.905, "type": "quantitative"}, "y": {"datum": 0.0876, "type": "quantitative"}, "text": {"value": "r"}}},
{"data": {"name": "one"}, "mark": {"type": "text", "align": "left", "baseline": "alphabetic", "fontSize": 16.5, "color": "#222"},
"encoding": {"x": {"datum": 2.905, "type": "quantitative"}, "y": {"datum": 0.0876, "type": "quantitative"}, "text": {"value": "² linear = 0.133"}}},
{"data": {"name": "one"}, "mark": {"type": "text", "align": "right", "baseline": "alphabetic", "fontStyle": "italic", "fontSize": 16.5, "color": "#222"},
"encoding": {"x": {"datum": 2.992, "type": "quantitative"}, "y": {"datum": 0.031, "type": "quantitative"}, "text": {"value": "P"}}},
{"data": {"name": "one"}, "mark": {"type": "text", "align": "left", "baseline": "alphabetic", "fontSize": 16.5, "color": "#222", "dx": 4},
"encoding": {"x": {"datum": 2.992, "type": "quantitative"}, "y": {"datum": 0.031, "type": "quantitative"}, "text": {"value": "< 0.001"}}}
]
}
],
"config": {
"font": "Liberation Sans",
"view": {"stroke": "#555", "strokeWidth": 1.5},
"axis": {"grid": false, "domainColor": "#555", "domainWidth": 1.5, "tickColor": "#555", "tickSize": 6, "tickWidth": 1.2, "labelFontSize": 18, "labelColor": "#222", "labelPadding": 2, "labelFlush": false, "labelOverlap": false, "labelFont": "Liberation Sans", "titleFont": "Liberation Sans", "titleFontSize": 18, "titleFontWeight": "bold", "titleColor": "#111"},
"axisY": {"titlePadding": -1},
"legend": {"labelFontSize": 18.5, "labelFont": "Liberation Sans", "labelColor": "#111", "symbolSize": 22, "symbolStrokeWidth": 1.4, "symbolStrokeColor": "black", "rowPadding": 4, "labelOffset": 1, "padding": 0},
"title": {"font": "Liberation Sans", "color": "#111"}
}
}
